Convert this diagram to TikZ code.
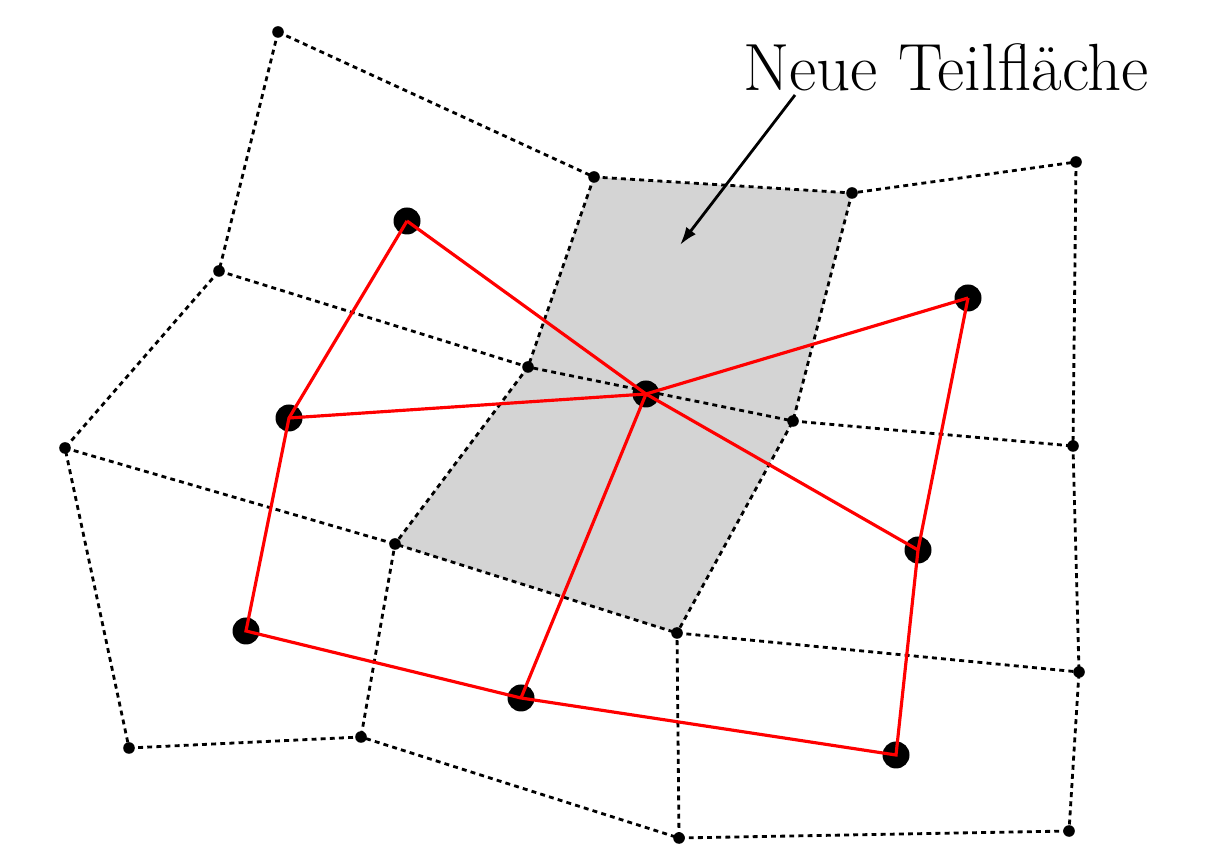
\documentclass[tikz,border=0pt]{standalone}
\usepackage{tikz}
\usetikzlibrary{arrows.meta}

\begin{document}
\begin{tikzpicture}[
  mesh/.style={dash pattern=on 1.4pt off 1.2pt, line width=0.8pt},
  face/.style={fill=black!17},
  link/.style={red, line width=0.9pt},
  tag/.style={font=\fontsize{19}{22}\selectfont, inner sep=0pt},
  pointer/.style={-{Latex[length=1.8mm,width=1.2mm]}, line width=0.8pt}
]
  \useasboundingbox (0,0) rectangle (12.16,8.55);

  % mesh vertices
  \coordinate (a) at (2.78,8.23);
  \coordinate (b) at (5.94,6.78);
  \coordinate (c) at (8.52,6.62);
  \coordinate (d) at (10.76,6.93);
  \coordinate (e) at (2.19,5.84);
  \coordinate (f) at (5.28,4.88);
  \coordinate (g) at (7.93,4.34);
  \coordinate (h) at (10.73,4.09);
  \coordinate (i) at (0.65,4.07);
  \coordinate (j) at (3.95,3.11);
  \coordinate (k) at (6.77,2.22);
  \coordinate (l) at (10.79,1.83);
  \coordinate (m) at (1.29,1.07);
  \coordinate (n) at (3.61,1.18);
  \coordinate (o) at (6.79,0.17);
  \coordinate (p) at (10.69,0.24);

  % new face
  \fill[face] (b) -- (c) -- (g) -- (k) -- (j) -- (f) -- cycle;

  \draw[mesh] (a) -- (b) -- (c) -- (d);
  \draw[mesh] (e) -- (f) -- (g) -- (h);
  \draw[mesh] (i) -- (j) -- (k) -- (l);
  \draw[mesh] (m) -- (n) -- (o) -- (p);
  \draw[mesh] (a) -- (e) -- (i) -- (m);
  \draw[mesh] (b) -- (f) -- (j) -- (n);
  \draw[mesh] (c) -- (g) -- (k) -- (o);
  \draw[mesh] (d) -- (h) -- (l) -- (p);

  \foreach \v in {a,b,c,d,e,f,g,h,i,j,k,l,m,n,o,p}
    \fill (\v) circle (0.058);

  % dual points
  \coordinate (r1) at (4.07,6.34);
  \coordinate (r2) at (2.89,4.37);
  \coordinate (r3) at (2.46,2.24);
  \coordinate (r4) at (5.21,1.57);
  \coordinate (r5) at (8.96,1.00);
  \coordinate (r6) at (9.18,3.05);
  \coordinate (r7) at (9.68,5.57);
  \coordinate (mid) at (6.46,4.61);

  \foreach \v in {r1,r2,r3,r4,r5,r6,r7,mid}
    \fill (\v) circle (0.135);

  \draw[link] (r1) -- (r2) -- (r3) -- (r4) -- (r5) -- (r6) -- (r7);
  \foreach \v in {r1,r2,r4,r6,r7}
    \draw[link] (mid) -- (\v);

  \node[tag] (lbl) at (9.46,7.88) {Neue Teilfläche};
  \coordinate (from) at (7.95,7.60);
  \coordinate (into) at (6.80,6.10);
  \draw[pointer] (from) -- (into);
\end{tikzpicture}
\end{document}
